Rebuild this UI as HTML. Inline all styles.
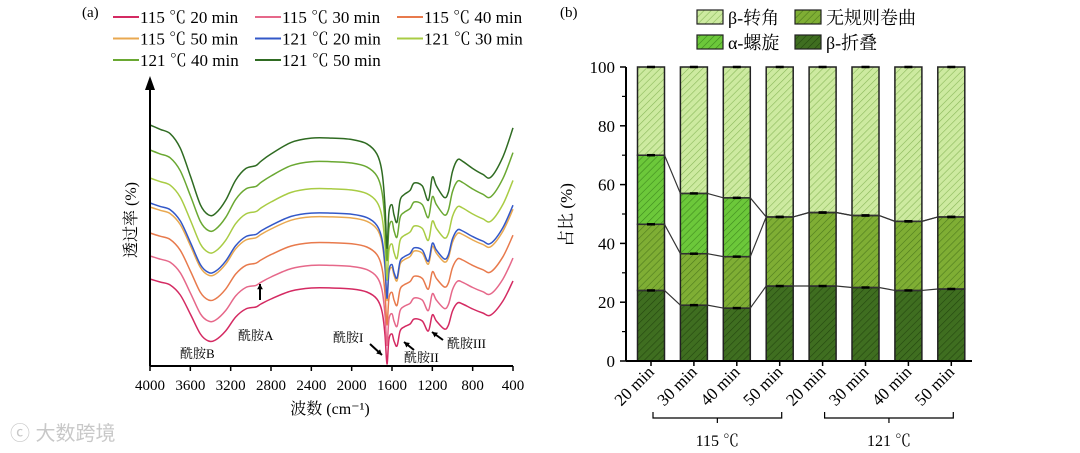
<!DOCTYPE html>
<html><head><meta charset="utf-8">
<style>
body{margin:0;background:#fff;}
svg{display:block;font-family:"Liberation Serif","Noto Serif CJK SC",serif;}
</style></head>
<body>
<svg id="fig" width="1080" height="453" viewBox="0 0 1080 453" xmlns="http://www.w3.org/2000/svg">
<defs>
<pattern id="h-turn" width="5" height="5" patternUnits="userSpaceOnUse" patternTransform="rotate(45)"><rect width="5" height="5" fill="#cdeaa0"/><line x1="0" y1="0" x2="0" y2="5" stroke="#8ab85a" stroke-width="1.2"/></pattern>
<pattern id="h-coil" width="5" height="5" patternUnits="userSpaceOnUse" patternTransform="rotate(45)"><rect width="5" height="5" fill="#7fae34"/><line x1="0" y1="0" x2="0" y2="5" stroke="#4d7a1c" stroke-width="1.2"/></pattern>
<pattern id="h-helix" width="5" height="5" patternUnits="userSpaceOnUse" patternTransform="rotate(45)"><rect width="5" height="5" fill="#6cc83a"/><line x1="0" y1="0" x2="0" y2="5" stroke="#3f8a1e" stroke-width="1.2"/></pattern>
<pattern id="h-sheet" width="5" height="5" patternUnits="userSpaceOnUse" patternTransform="rotate(45)"><rect width="5" height="5" fill="#3f6e20"/><line x1="0" y1="0" x2="0" y2="5" stroke="#24470f" stroke-width="1.2"/></pattern>
</defs>
<g id="left"></g>
<g id="right"></g>
<text x="10" y="440" font-size="20" fill="#c8c8c8" font-family="Liberation Sans,Noto Sans CJK SC,sans-serif">ⓒ 大数跨境</text>
</svg>
<script>
// ---------- FTIR data ----------
const wavenumbers = [4000,3900,3800,3700,3600,3500,3420,3350,3250,3150,3050,2950,2900,2800,2600,2400,2200,2000,1850,1750,1700,1670,1650,1630,1600,1580,1550,1520,1480,1420,1380,1300,1240,1200,1160,1080,1040,1000,950,900,800,700,620,500,400];
const profile = [0,3,6,16,35,55,62,61,52,38,30,28,25,20,12,9,9,10,13,20,32,55,85,60,55,62,67,52,48,45,40,42,52,36,42,50,46,32,24,25,30,34,36,22,2];
const seriesNames = ["115 ℃ 20 min","115 ℃ 30 min","115 ℃ 40 min","115 ℃ 50 min","121 ℃ 20 min","121 ℃ 30 min","121 ℃ 40 min","121 ℃ 50 min"];
const seriesColors = ["#d42a62","#e6688a","#e87a4c","#e9a850","#3358c8","#a9cc44","#6aa832","#2f6b22"];
const seriesBaseline = [279,256,233,207,203,178,150,125];
const seriesAmplitude = [1.0,1.05,1.08,1.1,1.12,1.2,1.3,1.45];
const wnTicks = [4000,3600,3200,2800,2400,2000,1600,1200,800,400];

const NS="http://www.w3.org/2000/svg";
function mk(parent,tag,attrs,text){const e=document.createElementNS(NS,tag);for(const k in attrs)e.setAttribute(k,attrs[k]);if(text!==undefined)e.textContent=text;parent.appendChild(e);return e;}
const L=document.getElementById('left');
const xW=w=>150+(4000-w)/3600*363;
function smooth(pts){
  let d="M"+pts[0][0].toFixed(1)+","+pts[0][1].toFixed(1);
  for(let i=0;i<pts.length-1;i++){
    const p0=pts[i-1]||pts[i],p1=pts[i],p2=pts[i+1],p3=pts[i+2]||p2,t=6;
    d+="C"+(p1[0]+(p2[0]-p0[0])/t).toFixed(1)+","+(p1[1]+(p2[1]-p0[1])/t).toFixed(1)+" "+(p2[0]-(p3[0]-p1[0])/t).toFixed(1)+","+(p2[1]-(p3[1]-p1[1])/t).toFixed(1)+" "+p2[0].toFixed(1)+","+p2[1].toFixed(1);
  }
  return d;
}
seriesNames.forEach((n,i)=>{
  const pts=wavenumbers.map((w,j)=>[xW(w),seriesBaseline[i]+profile[j]*seriesAmplitude[i]]);
  const p=mk(L,'path',{d:smooth(pts),fill:"none",stroke:seriesColors[i],"stroke-width":1.5,"stroke-linejoin":"round"});
  
  
});
let ax=mk(L,'line',{x1:150,y1:366,x2:513,y2:366,stroke:"#000","stroke-width":2});

let ay=mk(L,'line',{x1:150,y1:366,x2:150,y2:88,stroke:"#000","stroke-width":2});

mk(L,'path',{d:"M145,90 L150,76 L155,90 Z",fill:"#000"});
wnTicks.forEach(w=>{
  mk(L,'line',{x1:xW(w),y1:366,x2:xW(w),y2:371,stroke:"#000","stroke-width":1.5});
  const t=mk(L,'text',{x:xW(w),y:390,"text-anchor":"middle","font-size":15},w);
  
});
let xt=mk(L,'text',{x:330,y:414,"text-anchor":"middle","font-size":16},"波数 (cm⁻¹)");

let yt=mk(L,'text',{x:0,y:0,"text-anchor":"middle","font-size":16,transform:"translate(136,220) rotate(-90)"},"透过率 (%)");

let pa=mk(L,'text',{x:82,y:17,"font-size":15},"(a)");

seriesNames.forEach((n,i)=>{
  const col=i%3,row=Math.floor(i/3);
  const x=113+col*142,y=17+row*21.5;
  const g=mk(L,'g',{});
  
  mk(g,'line',{x1:x,y1:y,x2:x+26,y2:y,stroke:seriesColors[i],"stroke-width":2});
  mk(g,'text',{x:x+27,y:y+6,"font-size":17},n);
});
const ann=[["酰胺B",180,358],["酰胺A",238,340],["酰胺I",333,342],["酰胺II",404,362],["酰胺III",447,348]];
ann.forEach(a=>{const t=mk(L,'text',{x:a[1],y:a[2],"font-size":13},a[0]);});
function arrow(x1,y1,x2,y2){mk(L,'line',{x1:x1,y1:y1,x2:x2,y2:y2,stroke:"#000","stroke-width":2});
  const a=Math.atan2(y2-y1,x2-x1),s=6;
  mk(L,'path',{d:`M${x2},${y2} L${x2-s*Math.cos(a-0.5)},${y2-s*Math.sin(a-0.5)} L${x2-s*Math.cos(a+0.5)},${y2-s*Math.sin(a+0.5)} Z`,fill:"#000"});}
arrow(260,300,260,284);arrow(370,344,382,355);arrow(414,350,404,342);arrow(443,340,432,332);

// ---------- Secondary structure data ----------
const categories = ["20 min","30 min","40 min","50 min","20 min","30 min","40 min","50 min"];
const sheet = [24,19,18,25.5,25.5,25,24,24.5];
const coil = [22.5,17.5,17.5,23.5,25,24.5,23.5,24.5];
const helix = [23.5,20.5,20,0,0,0,0,0];
const turn = [30,43,44.5,51,49.5,50.5,52.5,51];
const yTicks = [0,20,40,60,80,100];
const groupLabels = ["115 ℃","121 ℃"];

const R=document.getElementById('right');
const y0=361,y1=67,yV=v=>y0-(y0-y1)*v/100;
const xC=i=>651+i*42.9, bw=27;
const layers=[["sheet",sheet,"url(#h-sheet)"],["coil",coil,"url(#h-coil)"],["helix",helix,"url(#h-helix)"],["turn",turn,"url(#h-turn)"]];
categories.forEach((c,i)=>{
  let b=0;
  layers.forEach(([nm,arr,fill])=>{
    const v=arr[i]; if(v<=0){return;}
    const r=mk(R,'rect',{x:xC(i)-bw/2,y:yV(b+v),width:bw,height:yV(b)-yV(b+v),fill:fill,stroke:"#222","stroke-width":1.5});
    
    
    b+=v;
  });
});
[[sheet],[sheet,coil],[sheet,coil,helix]].forEach(list=>{
  let d="";
  categories.forEach((c,i)=>{const v=list.reduce((s,a)=>s+a[i],0);
    d+=(i?"L":"M")+(xC(i)-bw/2)+","+yV(v)+"L"+(xC(i)+bw/2)+","+yV(v);});
  const p=mk(R,'path',{d:d,fill:"none",stroke:"#333","stroke-width":1.2});
  
});
categories.forEach((c,i)=>{[sheet[i],sheet[i]+coil[i],sheet[i]+coil[i]+helix[i],100].forEach(v=>{
  mk(R,'line',{x1:xC(i)-4,y1:yV(v),x2:xC(i)+4,y2:yV(v),stroke:"#000","stroke-width":2.5});});});
let rx=mk(R,'line',{x1:626,y1:y0,x2:972,y2:y0,stroke:"#000","stroke-width":2});

let ry=mk(R,'line',{x1:626,y1:y0,x2:626,y2:y1,stroke:"#000","stroke-width":2});

yTicks.forEach(v=>{
  mk(R,'line',{x1:620,y1:yV(v),x2:626,y2:yV(v),stroke:"#000","stroke-width":1.5});
  if(v<100)mk(R,'line',{x1:622,y1:yV(v+10),x2:626,y2:yV(v+10),stroke:"#000","stroke-width":1.2});
  const t=mk(R,'text',{x:615,y:yV(v)+6,"text-anchor":"end","font-size":17},v);
  
});
categories.forEach((c,i)=>{
  mk(R,'line',{x1:xC(i),y1:y0,x2:xC(i),y2:y0+5,stroke:"#000","stroke-width":1.5});
  const t=mk(R,'text',{x:0,y:0,"text-anchor":"end","font-size":17,transform:`translate(${xC(i)+4},${y0+12}) rotate(-45)`},c);
  
});
groupLabels.forEach((g,k)=>{
  const a=xC(k*4)+2,b=xC(k*4+3)+2,m=(a+b)/2;
  mk(R,'path',{d:`M${a},412 L${a},418 L${b},418 L${b},412 M${m},418 L${m},423`,fill:"none",stroke:"#000","stroke-width":1.2});
  const t=mk(R,'text',{x:m,y:446,"text-anchor":"middle","font-size":16},g);
  
});
let ryt=mk(R,'text',{x:0,y:0,"text-anchor":"middle","font-size":17,transform:"translate(572,215) rotate(-90)"},"占比 (%)");

let pb=mk(R,'text',{x:560,y:17,"font-size":15},"(b)");

const leg=[["β-转角","url(#h-turn)",697,10],["无规则卷曲","url(#h-coil)",795,10],["α-螺旋","url(#h-helix)",697,35],["β-折叠","url(#h-sheet)",795,35]];
leg.forEach(l=>{
  const g=mk(R,'g',{});
  
  mk(g,'rect',{x:l[2],y:l[3],width:26,height:14,fill:l[1],stroke:"#222","stroke-width":1.2});
  mk(g,'text',{x:l[2]+31,y:l[3]+14,"font-size":18},l[0]);
});
</script>
</body></html>
